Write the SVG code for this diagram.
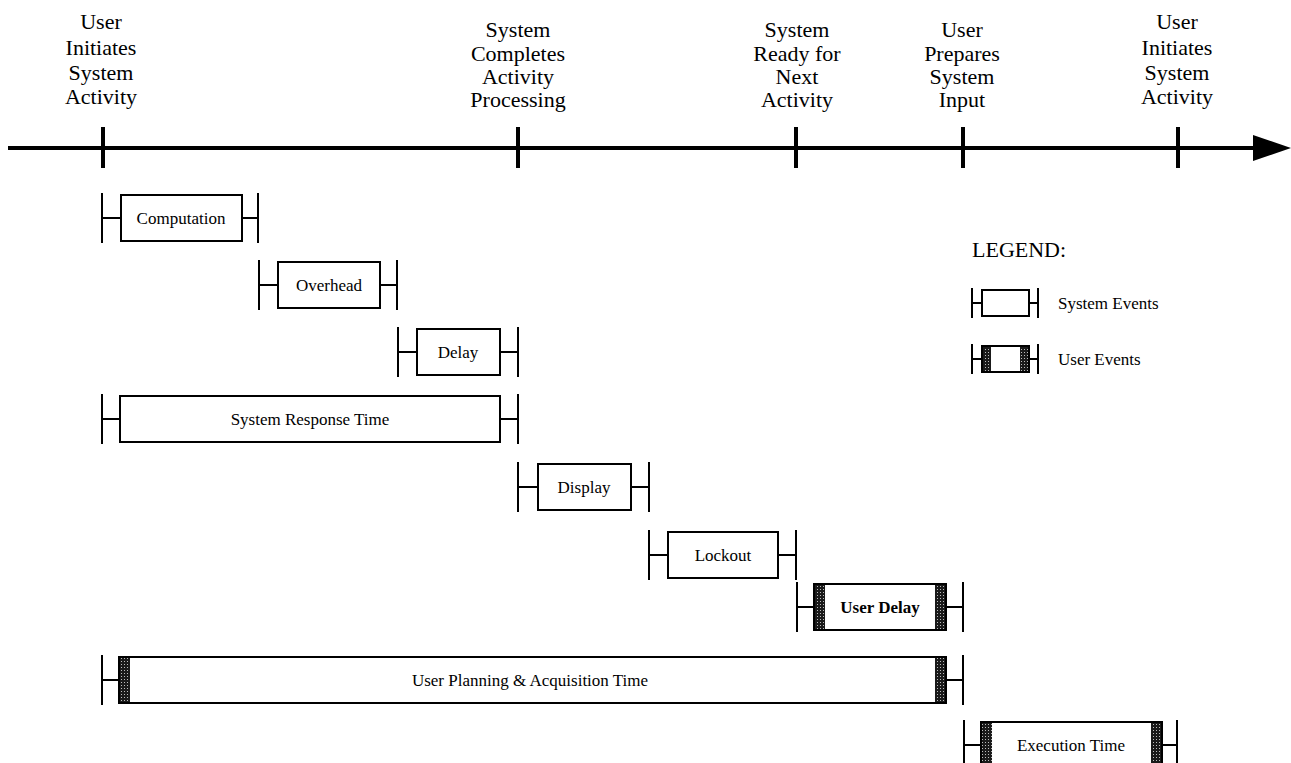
<svg xmlns="http://www.w3.org/2000/svg" width="1291" height="763" viewBox="0 0 1291 763">
<style>
.hdr{font-family:"Liberation Serif","Times New Roman",serif;font-size:22px;fill:#000;text-anchor:middle}
.lbl{font-family:"Liberation Serif","Times New Roman",serif;font-size:17px;fill:#000;text-anchor:middle}
.leg{font-family:"Liberation Serif","Times New Roman",serif;font-size:17px;fill:#000}
.legh{font-family:"Liberation Serif","Times New Roman",serif;font-size:22px;fill:#000}
.box{fill:#fff;stroke:#000;stroke-width:2}
.br{fill:none;stroke:#000;stroke-width:2}
.axis{stroke:#000;stroke-width:4;fill:none}
.band{fill:url(#stip);stroke:none}
</style>
<defs>
<pattern id="stip" width="3" height="3" patternUnits="userSpaceOnUse">
<rect width="3" height="3" fill="#1a1a1a"/>
<rect x="1" y="1" width="1" height="1" fill="#bbb"/>
</pattern>
</defs>
<rect width="1291" height="763" fill="#fff"/>
<g id="connectors">
<line class="axis" x1="8" y1="148" x2="1256" y2="148"/>
<polygon points="1253,135 1291,148 1253,161" fill="#000"/>
<line class="axis" x1="103" y1="127" x2="103" y2="168"/>
<line class="axis" x1="518" y1="127" x2="518" y2="168"/>
<line class="axis" x1="796" y1="127" x2="796" y2="168"/>
<line class="axis" x1="963" y1="127" x2="963" y2="168"/>
<line class="axis" x1="1178" y1="127" x2="1178" y2="168"/>
</g>
<g id="label-user-initiates-1">
<text class="hdr" x="101" y="29">User</text>
<text class="hdr" x="101" y="55">Initiates</text>
<text class="hdr" x="101" y="80">System</text>
<text class="hdr" x="101" y="104">Activity</text>
</g>
<g id="label-system-completes">
<text class="hdr" x="518" y="37">System</text>
<text class="hdr" x="518" y="61">Completes</text>
<text class="hdr" x="518" y="84">Activity</text>
<text class="hdr" x="518" y="107">Processing</text>
</g>
<g id="label-system-ready">
<text class="hdr" x="797" y="37">System</text>
<text class="hdr" x="797" y="61">Ready for</text>
<text class="hdr" x="797" y="84">Next</text>
<text class="hdr" x="797" y="107">Activity</text>
</g>
<g id="label-user-prepares">
<text class="hdr" x="962" y="37">User</text>
<text class="hdr" x="962" y="61">Prepares</text>
<text class="hdr" x="962" y="84">System</text>
<text class="hdr" x="962" y="107">Input</text>
</g>
<g id="label-user-initiates-2">
<text class="hdr" x="1177" y="29">User</text>
<text class="hdr" x="1177" y="55">Initiates</text>
<text class="hdr" x="1177" y="80">System</text>
<text class="hdr" x="1177" y="104">Activity</text>
</g>
<g id="computation">
<path class="br" d="M102,193V243M102,218H121M242,218H258M258,193V243"/>
<rect class="box" x="121" y="195" width="121" height="46"/>
<text class="lbl" x="181" y="224">Computation</text>
</g>
<g id="overhead">
<path class="br" d="M259,260V310M259,285H278M380,285H397M397,260V310"/>
<rect class="box" x="278" y="262" width="102" height="46"/>
<text class="lbl" x="329" y="291">Overhead</text>
</g>
<g id="delay">
<path class="br" d="M398,327V377M398,352H417M500,352H518M518,327V377"/>
<rect class="box" x="417" y="329" width="83" height="46"/>
<text class="lbl" x="458" y="358">Delay</text>
</g>
<g id="system-response-time">
<path class="br" d="M102,394V444M102,419H120M500,419H518M518,394V444"/>
<rect class="box" x="120" y="396" width="380" height="46"/>
<text class="lbl" x="310" y="425">System Response Time</text>
</g>
<g id="display">
<path class="br" d="M518,462V512M518,487H538M631,487H649M649,462V512"/>
<rect class="box" x="538" y="464" width="93" height="46"/>
<text class="lbl" x="584" y="493">Display</text>
</g>
<g id="lockout">
<path class="br" d="M649,530V580M649,555H668M778,555H796M796,530V580"/>
<rect class="box" x="668" y="532" width="110" height="46"/>
<text class="lbl" x="723" y="561">Lockout</text>
</g>
<g id="user-delay">
<path class="br" d="M797,582V632M797,607H814M946,607H963M963,582V632"/>
<rect class="box" x="814" y="584" width="132" height="46"/>
<rect class="band" x="815" y="585" width="10" height="44"/>
<rect class="band" x="935" y="585" width="10" height="44"/>
<text class="lbl" x="880" y="613" font-weight="bold">User Delay</text>
</g>
<g id="user-planning">
<path class="br" d="M102,655V705M102,680H119M946,680H963M963,655V705"/>
<rect class="box" x="119" y="657" width="827" height="46"/>
<rect class="band" x="120" y="658" width="10" height="44"/>
<rect class="band" x="935" y="658" width="10" height="44"/>
<text class="lbl" x="530" y="686">User Planning &amp; Acquisition Time</text>
</g>
<g id="execution-time">
<path class="br" d="M964,720V770M964,745H981M1162,745H1177M1177,720V770"/>
<rect class="box" x="981" y="722" width="181" height="46"/>
<rect class="band" x="982" y="723" width="10" height="44"/>
<rect class="band" x="1151" y="723" width="10" height="44"/>
<text class="lbl" x="1071" y="751">Execution Time</text>
</g>
<g id="legend">
<text class="legh" x="972" y="257">LEGEND:</text>
<g id="legend-system">
<path class="br" d="M972,288V318M972,303H982M1029,303H1038M1038,288V318"/>
<rect class="box" x="982" y="290" width="47" height="26"/>
<text class="leg" x="1058" y="309">System Events</text>
</g>
<g id="legend-user">
<path class="br" d="M972,344V374M972,359H982M1029,359H1038M1038,344V374"/>
<rect class="box" x="982" y="346" width="47" height="26"/>
<rect class="band" x="983" y="347" width="8" height="24"/>
<rect class="band" x="1020" y="347" width="8" height="24"/>
<text class="leg" x="1058" y="365">User Events</text>
</g>
</g>
</svg>
